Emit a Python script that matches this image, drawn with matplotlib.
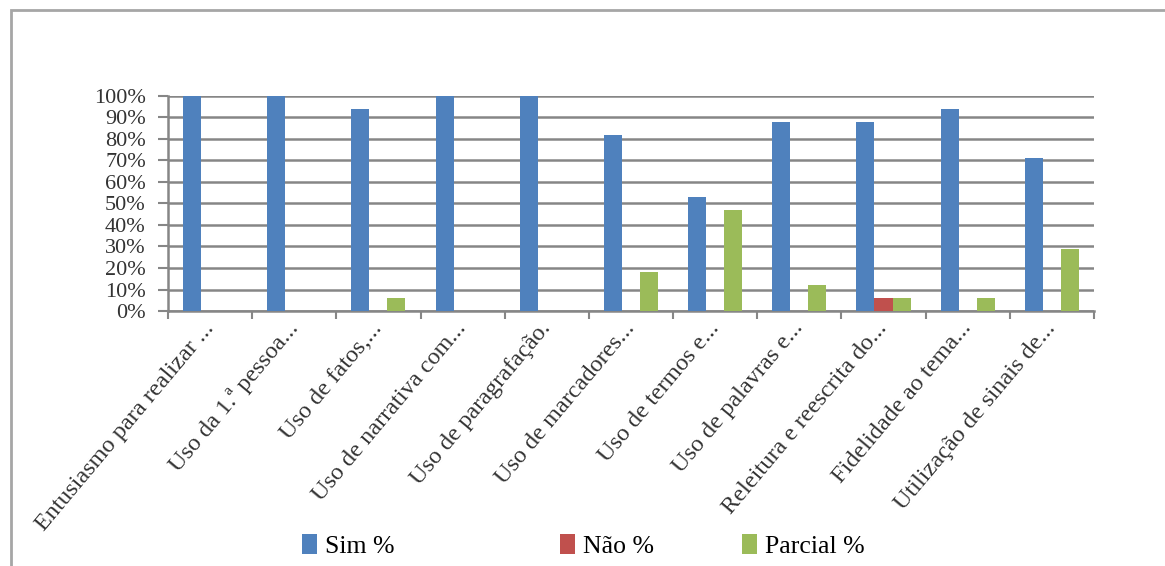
import matplotlib
matplotlib.use("Agg")
import matplotlib.pyplot as plt
import matplotlib.patches as patches
import matplotlib.transforms as mtransforms
import numpy as np

plt.rcParams['font.family'] = ['Liberation Serif', 'DejaVu Serif']

categorias = [
	"Entusiasmo para realizar ...",
	"Uso da 1.ª pessoa...",
	"Uso de fatos,...",
	"Uso de narrativa com...",
	"Uso de paragrafação.",
	"Uso de marcadores...",
	"Uso de termos e...",
	"Uso de palavras e...",
	"Releitura e reescrita do...",
	"Fidelidade ao tema...",
	"Utilização de sinais de...",
]
sim = [100, 100, 94, 100, 100, 82, 53, 88, 88, 94, 71]
nao = [0, 0, 0, 0, 0, 0, 0, 0, 6, 0, 0]
parcial = [0, 0, 6, 0, 0, 18, 47, 12, 6, 6, 29]
series = ["Sim %", "Não %", "Parcial %"]
cores = ["#4f81bd", "#c0504d", "#9bbb59"]

fig = plt.figure(figsize=(11.65, 5.66), dpi=100)
ax = fig.add_axes([0.1442, 0.4505, 0.7948, 0.38])

# moldura externa
fig.patches.append(patches.Rectangle((11/1165, -0.1), 1.2, 1 - 10/566 + 0.1,
	transform=fig.transFigure, fill=False, edgecolor="#a6a6a6", linewidth=2))

x = np.arange(len(categorias))
w = 0.214
barras = []
for i, (vals, nome) in enumerate(zip([sim, nao, parcial], series)):
	b = ax.bar(x + (i - 1) * w, vals, w, color=cores[i], label=nome, zorder=3)
	barras.append(b)

ax.set_xlim(-0.5, len(categorias) - 0.5)
ax.set_ylim(0, 100)
ax.set_yticks(np.arange(0, 101, 10))
ax.set_yticklabels([f"{v}%" for v in range(0, 101, 10)], fontsize=16, color="#333333")
ax.yaxis.grid(True, color="#868686", linewidth=1.8, zorder=0)
ax.tick_params(axis='y', length=7, width=1.5, color="#868686", pad=9)

ax.set_xticks(x)
ax.set_xticklabels(categorias, rotation=50, ha='right', rotation_mode='anchor',
	fontsize=17.5, color="#333333")
ax.tick_params(axis='x', length=0, pad=5)
desloc = mtransforms.ScaledTranslation(-8/100, 0, fig.dpi_scale_trans)
for lab in ax.get_xticklabels():
	lab.set_transform(lab.get_transform() + desloc)
ax.set_xticks(np.arange(-0.5, len(categorias)), minor=True)
ax.tick_params(axis='x', which='minor', length=6, width=1.5, color="#868686")

for s in ["top", "right"]:
	ax.spines[s].set_visible(False)
for s in ["left", "bottom"]:
	ax.spines[s].set_color("#868686")
	ax.spines[s].set_linewidth(1.8)

# legenda: cada item em sua posição, como no original
pos_legenda = [302, 560, 742]
for b, nome, px in zip(barras, series, pos_legenda):
	fig.legend([b], [nome], loc='center left', bbox_to_anchor=(px/1165, 0.035),
		frameon=False, fontsize=18.5, handlelength=0.6, handleheight=0.8,
		handletextpad=0.3, borderpad=0, borderaxespad=0)

fig.savefig("out.png", dpi=100)
